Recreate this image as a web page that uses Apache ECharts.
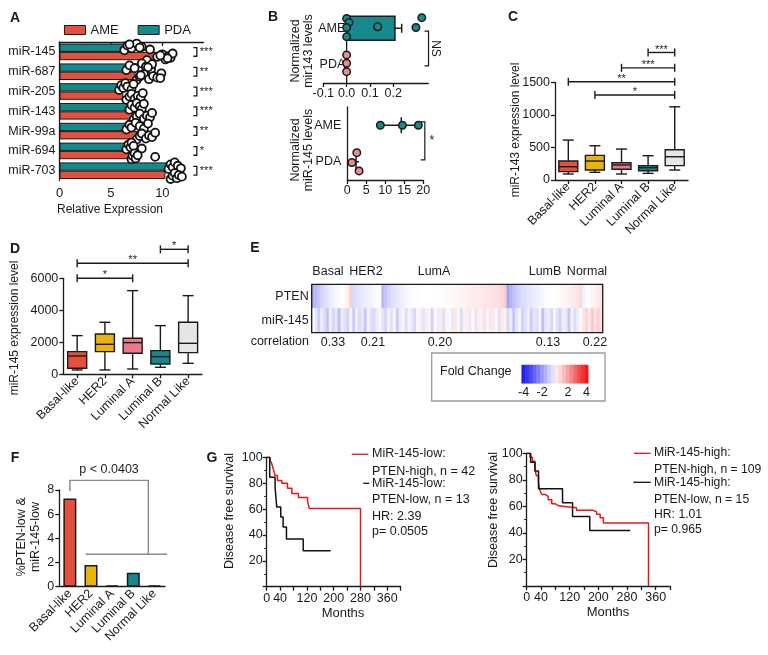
<!DOCTYPE html>
<html><head><meta charset="utf-8">
<script src="https://cdn.jsdelivr.net/npm/echarts@6/dist/echarts.min.js"></script>
<style>html,body{margin:0;padding:0;background:#fff}#c{width:768px;height:655px}</style>
</head><body><div id="c"></div>
<script>
// ===================== DATA =====================
// Panel A
const aRows = ['miR-145','miR-687','miR-205','miR-143','MiR-99a','miR-694','miR-703'];
const aAME = [10.4, 7.4, 6.2, 7.2, 7.8, 6.9, 10.3];
const aPDA = [7.0, 7.6, 5.7, 6.7, 6.5, 6.4, 10.4];
const aAMEpts = [
  [8.5,9.5,10.0,10.3,10.6,10.8,11.0,10.5,9.8],
  [7.5,7.8,8.2,8.7,9.1,9.5,9.9,9.8,7.9],
  [6.5,6.8,7.0,7.3,7.6,7.9,8.1],
  [7.2,7.5,7.8,8.2,8.5,8.8,9.0],
  [7.5,7.8,8.0,8.4,8.7,9.0,9.3],
  [7.0,7.1,7.3,7.4,7.6,9.3],
  [10.8,11.0,11.2,11.4,11.6,11.9]];
const aPDApts = [
  [6.3,6.6,7.0,7.5,8.0,8.8,6.8,7.8],
  [6.5,6.8,7.3,8.0,8.4,8.9,9.0,8.6],
  [5.8,6.0,6.2,6.4,6.6,7.0,7.2],
  [6.8,7.0,7.3,7.5,7.8,8.0,8.2],
  [6.5,6.8,7.0,7.4,7.8,8.2,8.6],
  [6.5,6.7,6.9,7.0,7.2,8.0],
  [10.6,10.8,11.0,11.2,11.5,11.8]];
const aSig = ['***','**','***','***','**','*','***'];
const aJitter = [0.08,0.32,0.18,0.42,0.25,0.12,0.38,0.22,0.3];
const aSigX = 13.35;
const aTicks = [0,5,10];

// Panel B (top: mir143, bottom: miR-145)
const bGroups = ['PDA','AME'];           // y positions 0.5, 1.5
const bTopBar = [[0.207, 1.5, 0.029]];   // mean, group pos, sem
const bTopAME = [[0,1.77],[0.01,1.66],[0,1.52],[0,1.27],[0.133,1.54],[0.297,1.52],[0.322,1.79]];
const bTopPDA = [[0,0.77],[0,0.54],[0,0.31]];
const bTopTicks = [-0.1,0,0.1,0.2];
const bTopNS = [[0.351, 1.42, 0.47]];
const bBotSpread = [[8.7,18.7,14.2,1.5],[1.2,3.1,2.3,0.5]]; // low, high, mean, group pos
const bBotAME = [[8.7,1.5],[14.5,1.5],[18.7,1.5]];
const bBotPDA = [[2.5,0.75],[1.2,0.48],[3.1,0.25]];
const bBotSig = [[20.4, 1.59, 0.55]];

// Panels C, D, F
const subtypes = ['Basal-like','HER2','Luminal A','Luminal B','Normal Like'];
const subtypeColors = ['#e4503e','#e9b30f','#ea7a8b','#16888b','#e6e6e6'];
// [min, Q1, median, Q3, max]
const cBox = [[92,128,204,291,613],[118,153,291,378,526],[92,164,230,265,475],[102,143,189,220,373],[153,220,357,465,1124]];
const cSig = [[3,4,1958],[2,4,1722],[0,4,1508],[1,4,1304]];
const cSigLabels = ['***','***','**','*'];
const dBox = [[271,375,1146,1417,2417],[271,1417,1875,2521,3250],[333,1312,1979,2250,5229],[437,646,1104,1479,3041],[687,1354,1937,3250,4916]];
const dSig = [[0,2,6000],[0,4,6937],[3,4,7812]];
const dSigLabels = ['*','**','*'];
const fVals = [7.3, 1.8, 0.1, 1.15, 0.1];
const fBracket = {x0:0, x1:3.71, top:8.8, drop0:7.9, drop1:2.68, baseX0:0.75, baseX1:4.6};

// Panel E heatmap (sorted samples per subtype)
const eSegments = ['Basal','HER2','LumA','LumB','Normal'];
const eCorr = ['0.33','0.21','0.20','0.13','0.22'];
const ptenVals = [
  -1.6,-1.5,-1.3,-1.1,-0.9,-0.7,-0.5,-0.35,-0.2,-0.1,0,0.15,0.4,1.3,
  -1.0,-0.85,-0.7,-0.6,-0.5,-0.4,-0.3,-0.2,-0.1,0.1,
  -1.5,-1.3,-1.1,-0.9,-0.75,-0.6,-0.45,-0.35,-0.25,-0.15,
  -0.1,-0.08,-0.05,-0.03,0,0,0,0.02,0.04,0.06,0.08,0.1,0.15,
  0.2,0.25,0.3,0.35,0.4,0.45,0.5,0.55,0.6,0.65,0.7,0.75,0.8,0.85,0.9,0.95,1.0,1.05,1.15,1.3,
  -1.9,-1.6,-1.4,-1.2,-1.05,-0.9,-0.8,-0.7,-0.6,-0.5,-0.4,-0.3,-0.2,-0.1,-0.05,0,0.05,0.1,0.2,0.3,0.4,0.5,0.6,0.75,0.9,1.1,
  -0.4,-0.1,0.1,0.3,0.5,0.7,0.9];
const mir145Vals = [
  0,-0.6,-1.2,-0.5,-0.9,-1.3,-0.4,-1.0,-0.7,-1.4,-0.5,-0.8,-1.1,-0.3,
  -1.2,-0.4,-0.9,-0.6,-1.3,-0.3,-0.8,-1.0,-0.5,0.3,
  -0.7,-1.1,-0.3,-0.8,0.4,-1.2,-0.5,-0.2,-0.9,0.5,-0.6,-1.0,0.3,-0.4,-0.7,0.6,-0.3,-1.1,0.2,-0.5,
  0.7,-0.8,0.4,-0.2,-0.6,0.8,0.3,-0.9,0.5,-0.4,0.9,0.2,-0.7,0.6,-0.3,1.0,0.4,-0.5,0.7,0.3,-0.8,0.8,0.5,
  -1.0,-0.5,-1.3,-0.7,-0.2,-1.1,-0.8,-0.4,-1.2,-0.6,-0.9,-0.3,-1.4,-0.7,-0.5,-1.0,-0.2,-0.8,-1.1,-0.4,-0.6,-1.3,-0.3,-0.9,-0.5,0.2,
  0.8,1.2,0.6,1.4,0.9,1.3,1.0];
const eRows = ['PTEN','miR-145'];
const cbVals = [-4,-3.6,-3.2,-2.8,-2.4,-2,-1.6,-1.2,-0.8,0.8,1.2,1.6,2,2.4,2.8,3.2,3.6,4];
const cbLabels = ['-4','-2','2','4'];

// Panel G (Kaplan-Meier, months vs % disease free)
const gLRed = [[0,100],[10,97.6],[15,95.2],[20,90.5],[25,86],[32,82],[45,80],[62,76],[75,72],[95,69],[122,65.7],[127,60.5],[280,60.5],[280,0]];
const gLBlack = [[0,100],[9,84.6],[25,76.9],[30,61.5],[42,53.8],[49,46.2],[59,36.9],[109,27.7],[191,27.7]];
const gRRed = [[0,100],[9,97],[16,94],[23,88],[27,83],[33,77],[37,72],[42,69],[51,67.5],[60,65],[70,62],[79,60.5],[88,59],[139,57],[185,56],[195,54],[205,51.5],[214,47.5],[340,47.5],[340,0]];
const gRBlack = [[0,100],[11,93.3],[23,86.7],[33,73.3],[100,62.8],[128,52.4],[176,41.9],[289,41.9]];
const gXLabels = [0,40,120,200,280,360];
const gYLabels = [20,40,60,80,100];

// ===================== STYLE =====================
const FONT = '"Liberation Sans", Arial, sans-serif';
const INK = '#1a1a1a';
const TEAL = '#16898c', RED = '#e4503e', PINK = '#ec8c8c';
function merge(a, b){ const o = Array.isArray(a)?a.slice():Object.assign({}, a); for (const k in b){ if (b[k] && typeof b[k]==='object' && !Array.isArray(b[k]) && a[k] && typeof a[k]==='object') o[k]=merge(a[k], b[k]); else o[k]=b[k]; } return o; }
const baseAxis = {splitLine:{show:false}, axisLine:{show:true, onZero:true, lineStyle:{color:INK,width:1.3}},
  axisTick:{show:true, length:4, lineStyle:{color:INK,width:1.3}},
  axisLabel:{color:INK, fontSize:12.5, margin:5, fontFamily:FONT}};
const ax = (o) => merge(baseAxis, o);
const plain = v => String(v);
function hline(x1,y1,x2,y2,c,w){ return {type:'line', shape:{x1,y1,x2,y2}, style:{stroke:c||INK, lineWidth:w||1.3}}; }

// ===================== RENDERERS =====================
function renderSigA(params, api){
  const r = params.dataIndex;
  const p0 = api.coord([api.value(0), api.value(1)-0.22]);
  const p1 = api.coord([api.value(0), api.value(1)+0.22]);
  return {type:'group', children:[
    {type:'polyline', shape:{points:[[p0[0]-3.5,p0[1]],[p0[0],p0[1]],[p1[0],p1[1]],[p1[0]-3.5,p1[1]]]}, style:{stroke:INK, lineWidth:1.3, fill:null}},
    {type:'text', x:p0[0]+3, y:(p0[1]+p1[1])/2, style:{text:aSig[r], fill:INK, font:'11px '+FONT, textVerticalAlign:'middle'}}
  ]};
}
function renderBarB(params, api){
  const a = api.coord([0, api.value(1)]), b = api.coord([api.value(0), api.value(1)]), e = api.coord([api.value(0)+api.value(2), api.value(1)]);
  return {type:'group', children:[
    hline(b[0], b[1], e[0], e[1], INK, 1.5),
    hline(e[0], e[1]-4.5, e[0], e[1]+4.5, INK, 1.5),
    {type:'rect', shape:{x:a[0], y:a[1]-12, width:b[0]-a[0], height:24}, style:{fill:TEAL, stroke:INK, lineWidth:1.5}}
  ]};
}
function renderVBracket(label, rotate){
  return function(params, api){
    const p0 = api.coord([api.value(0), api.value(1)]), p1 = api.coord([api.value(0), api.value(2)]);
    return {type:'group', children:[
      {type:'polyline', shape:{points:[[p0[0]-4,p0[1]],[p0[0],p0[1]],[p1[0],p1[1]],[p1[0]-4,p1[1]]]}, style:{stroke:INK, lineWidth:1.2, fill:null}},
      {type:'text', x:p0[0]+7, y:(p0[1]+p1[1])/2, rotation: rotate?-Math.PI/2:0,
        style:{text:label, fill:INK, font:'12px '+FONT, textAlign:'center', textVerticalAlign:'middle'}}
    ]};
  };
}
function renderSpread(params, api){
  const y = api.value(3);
  const lo = api.coord([api.value(0), y]), hi = api.coord([api.value(1), y]), m = api.coord([api.value(2), y]);
  return {type:'group', children:[ hline(lo[0], lo[1], hi[0], hi[1], INK, 1.5), hline(m[0], m[1]-8, m[0], m[1]+8, INK, 1.5) ]};
}
function renderZeroLine(params, api){
  const a = api.coord([0, 0]), b = api.coord([0, 2]);
  return hline(a[0], a[1], b[0], b[1]+5, INK, 1.3);
}
function renderBox(params, api){
  const i = api.value(0);
  const lo = api.coord([i, api.value(1)]), q1 = api.coord([i, api.value(2)]), md = api.coord([i, api.value(3)]),
        q3 = api.coord([i, api.value(4)]), hi = api.coord([i, api.value(5)]);
  const x = lo[0], bw = 19, cw = 11;
  return {type:'group', children:[
    hline(x, hi[1], x, q3[1], INK, 1.4), hline(x, q1[1], x, lo[1], INK, 1.4),
    hline(x-cw/2, hi[1], x+cw/2, hi[1], INK, 1.4), hline(x-cw/2, lo[1], x+cw/2, lo[1], INK, 1.4),
    {type:'rect', shape:{x:x-bw/2, y:q3[1], width:bw, height:q1[1]-q3[1]}, style:{fill:subtypeColors[i], stroke:INK, lineWidth:1.4}},
    hline(x-bw/2, md[1], x+bw/2, md[1], INK, 1.4)
  ]};
}
function renderSig(labels){
  return function(params, api){
    const p0 = api.coord([api.value(0), api.value(2)]), p1 = api.coord([api.value(1), api.value(2)]);
    return {type:'group', children:[
      hline(p0[0], p0[1], p1[0], p1[1], INK, 1.4),
      hline(p0[0], p0[1]-4, p0[0], p0[1]+4, INK, 1.4), hline(p1[0], p1[1]-4, p1[0], p1[1]+4, INK, 1.4),
      {type:'text', x:(p0[0]+p1[0])/2, y:p0[1]-3, style:{text:labels[params.dataIndex], fill:INK, font:'11px '+FONT, textAlign:'center', textVerticalAlign:'middle'}}
    ]};
  };
}
function renderFBracket(params, api){
  const c0 = api.coord([0, 0]), c1 = api.coord([1, 0]);
  const band = c1[0]-c0[0];
  const X = i => c0[0] + band*i, Y = v => api.coord([0, v])[1];
  const b = fBracket, g = '#8a8a8a';
  return {type:'group', children:[
    {type:'polyline', shape:{points:[[X(b.x0),Y(b.drop0)],[X(b.x0),Y(b.top)],[X(b.x1),Y(b.top)],[X(b.x1),Y(b.drop1)]]}, style:{stroke:g, lineWidth:1.4, fill:null}},
    hline(X(b.baseX0), Y(b.drop1), X(b.baseX1), Y(b.drop1), g, 1.4),
    {type:'text', x:(X(b.x0)+X(b.x1))/2, y:Y(b.top)-11, style:{text:'p < 0.0403', fill:INK, font:'12.5px '+FONT, textAlign:'center', textVerticalAlign:'middle'}}
  ]};
}

// ===================== BUILD =====================
const aPts = [];
aRows.forEach((_, r) => {
  aPDApts[r].forEach((v, k) => aPts.push([v, r + 0.5 - aJitter[k % aJitter.length]]));
  aAMEpts[r].forEach((v, k) => aPts.push([v, r + 0.5 + aJitter[(k+3) % aJitter.length]]));
});
const heatData = [];
ptenVals.forEach((v, i) => heatData.push([i, 0, v]));
mir145Vals.forEach((v, i) => heatData.push([i, 1, v]));
const cbData = cbVals.map((v, i) => [i, 0, v]);
const boxRows = (arr) => arr.map((b, i) => [i].concat(b));

const gridBase = {containLabel:false, outerBoundsMode:'none'};
const grids = [
  {left:59.5, top:42, width:144, height:138.6},
  {left:323.3, top:10, width:105, height:73},
  {left:347.3, top:107, width:76, height:73},
  {left:555, top:82.3, width:133, height:97.7},
  {left:63.3, top:278.3, width:138.7, height:96},
  {left:311.7, top:284.3, width:291, height:48.4},
  {left:521.7, top:365, width:66.6, height:18.3},
  {left:59.3, top:490, width:105.7, height:96.7},
  {left:266.7, top:457.3, width:134, height:129.4},
  {left:526.7, top:453.3, width:143.3, height:132.7}
].map(g => Object.assign({}, gridBase, g));

const catX = (grid) => ax({gridIndex:grid, type:'category', data:subtypes, axisTick:{alignWithLabel:true}, axisLabel:{rotate:45, margin:5, interval:0}});
const gX = (grid) => ax({gridIndex:grid, type:'value', min:0, max:400, interval:40, axisLabel:{customValues:gXLabels, margin:5, formatter:plain}});
const gY = (grid) => ax({gridIndex:grid, type:'value', min:0, max:100, interval:20, axisLabel:{customValues:gYLabels, margin:4, formatter:plain}, minorTick:{show:true, splitNumber:2, length:2.5, lineStyle:{color:INK, width:1}}});

const option = {
  animation: false,
  backgroundColor: '#fff',
  textStyle: {fontFamily: FONT, color: INK},
  grid: grids,
  legend: {left:64, top:23.5, padding:0, itemWidth:21, itemHeight:9, itemGap:19, icon:'rect', data:['AME','PDA'],
    textStyle:{fontSize:13, color:INK, fontFamily:FONT}, itemStyle:{borderColor:INK, borderWidth:1}},
  xAxis: [
    ax({gridIndex:0, type:'value', min:0, max:14, axisTick:{customValues:aTicks}, axisLabel:{customValues:aTicks, fontSize:13, margin:6, formatter:plain}}),
    ax({gridIndex:1, type:'value', min:-0.1, max:0.35, axisTick:{customValues:bTopTicks}, axisLabel:{customValues:bTopTicks, formatter:v=>v.toFixed(1), margin:4}}),
    ax({gridIndex:2, type:'value', min:0, max:20, interval:5, axisLabel:{margin:4, formatter:plain}}),
    catX(3), catX(4),
    {gridIndex:5, type:'category', data:ptenVals.map((_, i) => i), show:false},
    ax({gridIndex:6, type:'category', data:cbVals.map(String), axisLine:{show:false}, axisTick:{show:false},
        axisLabel:{interval:0, margin:3, fontSize:12.5, formatter:v => cbLabels.includes(v) ? v : ''}}),
    ax({gridIndex:7, type:'category', data:subtypes, axisTick:{show:false}, axisLabel:{rotate:45, margin:5, interval:0}}),
    gX(8), gX(9)
  ],
  yAxis: [
    ax({gridIndex:0, type:'category', data:aRows, inverse:true, axisTick:{show:false}, axisLabel:{fontSize:12.5, margin:4}}),
    {gridIndex:0, type:'value', min:0, max:7, inverse:true, show:false},
    ax({gridIndex:1, type:'value', min:0, max:2, offset:-24, axisLine:{show:false, onZero:false}, axisTick:{show:false},
        axisLabel:{customValues:[0.5,1.5], formatter:v => bGroups[Math.floor(v)], margin:2, fontSize:12.5}}),
    ax({gridIndex:2, type:'value', min:0, max:2, axisTick:{show:false}, axisLabel:{customValues:[0.5,1.5], formatter:v => bGroups[Math.floor(v)], margin:6, fontSize:12.5}}),
    ax({gridIndex:3, type:'value', min:0, max:1500, interval:500, axisLabel:{formatter:plain}}),
    ax({gridIndex:4, type:'value', min:0, max:6000, interval:2000, axisLabel:{formatter:plain}}),
    ax({gridIndex:5, type:'category', data:eRows, inverse:true, axisLine:{show:false}, axisTick:{show:false}, axisLabel:{margin:3, fontSize:12.5}}),
    {gridIndex:6, type:'category', data:[''], show:false},
    ax({gridIndex:7, type:'value', min:0, max:8, interval:2, axisLabel:{formatter:plain}}),
    gY(8), gY(9)
  ],
  visualMap: [{type:'continuous', show:false, min:-4, max:4, seriesIndex:[17,18],
    inRange:{color:['#2020ee','#5555f3','#9a9af6','#d8d8fb','#ffffff','#fde0e0','#f7a2a2','#f25c5c','#ec1c1c']}}],
  series: [
    {name:'PDA', type:'bar', xAxisIndex:0, yAxisIndex:0, data:aPDA, barWidth:8.3, barGap:'0%', itemStyle:{color:TEAL, borderColor:INK, borderWidth:1}},
    {name:'AME', type:'bar', xAxisIndex:0, yAxisIndex:0, data:aAME, barWidth:8.3, barGap:'0%', itemStyle:{color:RED, borderColor:INK, borderWidth:1}},
    {type:'scatter', xAxisIndex:0, yAxisIndex:1, data:aPts, symbolSize:8, itemStyle:{color:'#fff', borderColor:'#111', borderWidth:1.8, opacity:1}, z:5},
    {type:'custom', xAxisIndex:0, yAxisIndex:1, clip:false, data:aRows.map((_, r) => [aSigX, r + 0.5]), renderItem:renderSigA},
    {type:'custom', xAxisIndex:1, yAxisIndex:2, clip:false, data:[[0, 0]], renderItem:renderZeroLine},
    {type:'custom', xAxisIndex:1, yAxisIndex:2, clip:false, data:bTopBar, renderItem:renderBarB},
    {type:'scatter', xAxisIndex:1, yAxisIndex:2, data:bTopAME, symbolSize:7.5, itemStyle:{color:TEAL, borderColor:INK, borderWidth:1.5, opacity:1}, z:5},
    {type:'scatter', xAxisIndex:1, yAxisIndex:2, data:bTopPDA, symbolSize:7.5, itemStyle:{color:PINK, borderColor:INK, borderWidth:1.5, opacity:1}, z:5},
    {type:'custom', xAxisIndex:1, yAxisIndex:2, clip:false, data:bTopNS, renderItem:renderVBracket('NS', true)},
    {type:'custom', xAxisIndex:2, yAxisIndex:3, clip:false, data:bBotSpread, renderItem:renderSpread},
    {type:'scatter', xAxisIndex:2, yAxisIndex:3, data:bBotAME, symbolSize:7.5, itemStyle:{color:TEAL, borderColor:INK, borderWidth:1.5, opacity:1}, z:5},
    {type:'scatter', xAxisIndex:2, yAxisIndex:3, data:bBotPDA, symbolSize:7.5, itemStyle:{color:PINK, borderColor:INK, borderWidth:1.5, opacity:1}, z:5},
    {type:'custom', xAxisIndex:2, yAxisIndex:3, clip:false, data:bBotSig, renderItem:renderVBracket('*', false)},
    {type:'custom', xAxisIndex:3, yAxisIndex:4, clip:false, data:boxRows(cBox), encode:{x:0, y:[1,2,3,4,5]}, renderItem:renderBox},
    {type:'custom', xAxisIndex:3, yAxisIndex:4, clip:false, data:cSig, encode:{x:[0,1], y:2}, renderItem:renderSig(cSigLabels)},
    {type:'custom', xAxisIndex:4, yAxisIndex:5, clip:false, data:boxRows(dBox), encode:{x:0, y:[1,2,3,4,5]}, renderItem:renderBox},
    {type:'custom', xAxisIndex:4, yAxisIndex:5, clip:false, data:dSig, encode:{x:[0,1], y:2}, renderItem:renderSig(dSigLabels)},
    {type:'heatmap', xAxisIndex:5, yAxisIndex:6, data:heatData, progressive:0, itemStyle:{borderWidth:0}},
    {type:'heatmap', xAxisIndex:6, yAxisIndex:7, data:cbData, progressive:0, itemStyle:{borderWidth:0}},
    {type:'bar', xAxisIndex:7, yAxisIndex:8, barWidth:13,
      data:fVals.map((v, i) => ({value:v, itemStyle:{color:subtypeColors[i]}})), itemStyle:{borderColor:INK, borderWidth:1.5}},
    {type:'custom', xAxisIndex:7, yAxisIndex:8, clip:false, data:[[0, fBracket.top]], renderItem:renderFBracket},
    {type:'line', xAxisIndex:8, yAxisIndex:9, data:gLRed, step:'end', symbol:'none', lineStyle:{color:'#e8161b', width:1.5}},
    {type:'line', xAxisIndex:8, yAxisIndex:9, data:gLBlack, step:'end', symbol:'none', lineStyle:{color:'#111', width:1.5}},
    {type:'line', xAxisIndex:9, yAxisIndex:10, data:gRRed, step:'end', symbol:'none', lineStyle:{color:'#e8161b', width:1.5}},
    {type:'line', xAxisIndex:9, yAxisIndex:10, data:gRBlack, step:'end', symbol:'none', lineStyle:{color:'#111', width:1.5}}
  ]
};

// ---------- text / annotation graphics ----------
function T(x, y, text, o){
  o = o || {};
  return {type:'text', x, y, rotation:o.rot || 0, z:50, silent:true,
    style:{text, fill:INK, font:(o.bold?'bold ':'') + (o.size || 12.5) + 'px ' + FONT,
      textAlign:o.align || 'center', textVerticalAlign:'middle', lineHeight:o.lh || 14}};
}
const R90 = Math.PI/2;
const G = [
  T(15, 18, 'A', {bold:true, size:14}), T(273, 17, 'B', {bold:true, size:14}), T(513, 17, 'C', {bold:true, size:14}),
  T(15, 249, 'D', {bold:true, size:14}), T(255, 248, 'E', {bold:true, size:14}), T(15, 458, 'F', {bold:true, size:14}),
  T(212, 458, 'G', {bold:true, size:14}),
  T(110, 210, 'Relative Expression', {size:12}),
  T(302, 51, 'Normalized\nmir143 levels', {rot:R90, size:12.5, lh:13.5}),
  T(302, 150, 'Normalized\nmiR-145 levels', {rot:R90, size:12.5, lh:13.5}),
  T(516, 130, 'miR-143 expression level', {rot:R90, size:12}),
  T(15, 328, 'miR-145 expression level', {rot:R90, size:12}),
  T(28.5, 537, '%PTEN-low &\nmiR-145-low', {rot:R90, size:12.5, lh:13.5}),
  T(230, 511, 'Disease free survival', {rot:R90, size:12.5}),
  T(494, 510, 'Disease free survival', {rot:R90, size:12.5}),
  T(343, 613, 'Months', {size:13}), T(608, 612, 'Months', {size:13}),
  // Panel E labels
  T(328, 272, eSegments[0]), T(366, 272, eSegments[1]), T(434, 272, eSegments[2]), T(545, 272, eSegments[3]), T(587, 272, eSegments[4]),
  T(309, 342, 'correlation', {align:'right'}),
  T(333, 343, eCorr[0]), T(373, 343, eCorr[1]), T(440, 343, eCorr[2]), T(548, 343, eCorr[3]), T(595, 343, eCorr[4]),
  {type:'rect', z:60, silent:true, shape:{x:311.7, y:284.3, width:291, height:48.4}, style:{fill:'none', stroke:INK, lineWidth:1.3}},
  {type:'rect', z:40, silent:true, shape:{x:431.7, y:353, width:173.3, height:48}, style:{fill:'none', stroke:'#9a9a9a', lineWidth:1.3}},
  T(440, 372, 'Fold Change', {align:'left'}),
  // Panel G legends
  {type:'line', z:50, silent:true, shape:{x1:351.7, y1:454.3, x2:368.3, y2:454.3}, style:{stroke:'#e8161b', lineWidth:1.3}},
  T(372, 454, 'MiR-145-low:', {align:'left'}), T(372, 471.7, 'PTEN-high, n = 42', {align:'left'}),
  {type:'line', z:50, silent:true, shape:{x1:363.3, y1:483.3, x2:369.3, y2:483.3}, style:{stroke:'#111', lineWidth:1.3}},
  T(372, 483.3, 'MiR-145-low:', {align:'left'}), T(372, 500, 'PTEN-low, n = 13', {align:'left'}),
  T(372, 516.7, 'HR: 2.39', {align:'left'}), T(372, 531.7, 'p= 0.0505', {align:'left'}),
  {type:'line', z:50, silent:true, shape:{x1:634, y1:453.3, x2:650.7, y2:453.3}, style:{stroke:'#e8161b', lineWidth:1.3}},
  T(654, 453, 'MiR-145-high:', {align:'left', size:12.2}), T(654, 470, 'PTEN-high, n = 109', {align:'left', size:12.2}),
  {type:'line', z:50, silent:true, shape:{x1:633.3, y1:482.3, x2:650.7, y2:482.3}, style:{stroke:'#111', lineWidth:1.3}},
  T(654, 482.3, 'MiR-145-high:', {align:'left', size:12.2}), T(654, 499.3, 'PTEN-low, n = 15', {align:'left', size:12.2}),
  T(654, 515, 'HR: 1.01', {align:'left', size:12.2}), T(654, 530, 'p= 0.965', {align:'left', size:12.2})
];
option.graphic = {elements: G};

const chart = echarts.init(document.getElementById('c'), null, {renderer:'canvas'});
chart.setOption(option);
</script>
</body></html>
